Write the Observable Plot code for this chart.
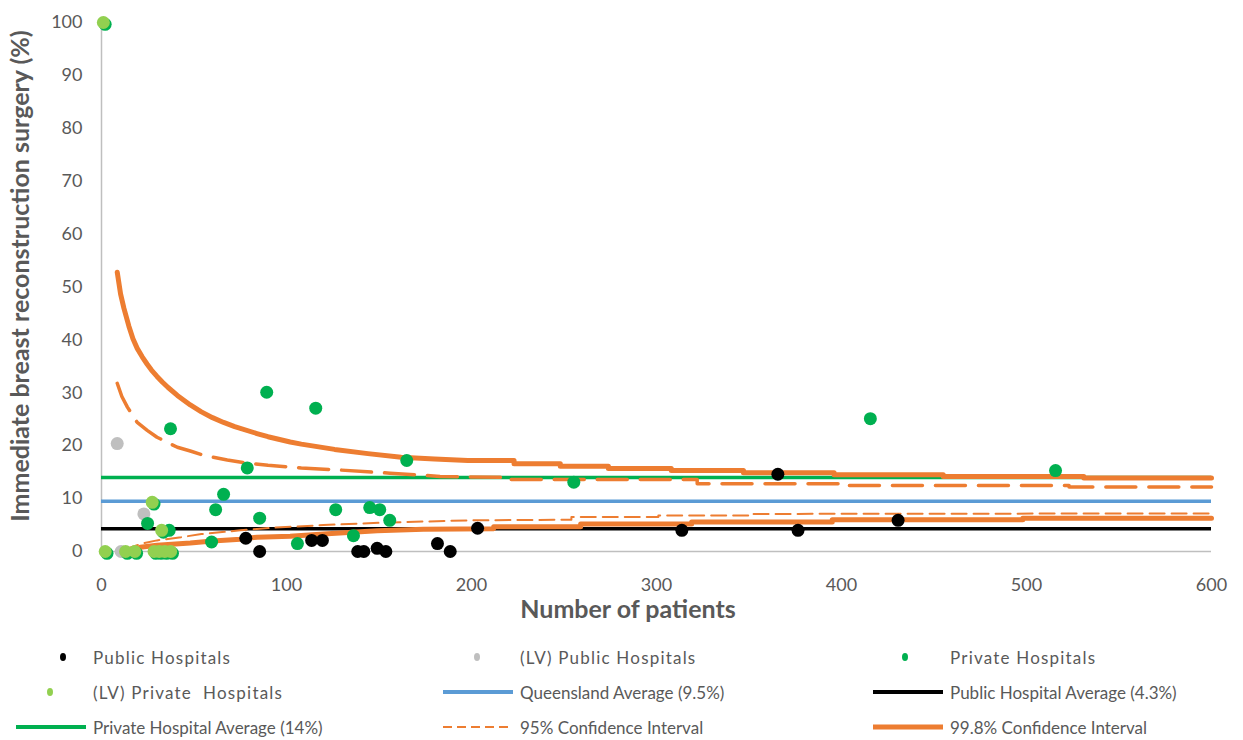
<!DOCTYPE html>
<html>
<head>
<meta charset="utf-8">
<script src="https://cdn.jsdelivr.net/npm/d3@7"></script>
<script src="https://cdn.jsdelivr.net/npm/@observablehq/plot@0.6"></script>
<style>
  body { margin: 0; background: #fff; font-family: Lato, "Open Sans", sans-serif; }
  #chart { width: 1243px; }
  #legend { position: relative; width: 1243px; height: 115px; }
  .item { position: absolute; display: flex; align-items: center; height: 24px;
          font-size: 17px; color: #595959; white-space: pre; }
  .item.wide { letter-spacing: 1.2px; }
  .item svg { flex: none; }
</style>
</head>
<body>
<div id="chart"></div>
<div id="legend"></div>
<script>
// Hospital results: number of patients and % with immediate breast reconstruction
const publicN   = [78, 85.5, 113.6, 119.4, 138.5, 141.8, 149, 153.7, 181.6, 188.5, 203.3, 313.7, 365.6, 376.5, 430.6];
const publicPct = [2.5, 0, 2.1, 2.1, 0, 0, 0.6, 0, 1.5, 0, 4.4, 4.0, 14.6, 4.0, 5.9];

const lvPublicN   = [8.5, 10.6, 22.9];
const lvPublicPct = [20.4, 0, 7.1];

const privateN   = [24.9, 36.6, 37.3, 59.5, 61.7, 66, 78.8, 85.5, 89.3, 105.9, 115.8, 126.6, 136.2, 145, 150.4, 155.8, 165, 255.3, 415.6, 515.7];
const privatePct = [5.3, 4.0, 23.2, 1.8, 7.9, 10.8, 15.8, 6.3, 30.1, 1.5, 27.1, 7.9, 3.0, 8.3, 7.9, 5.9, 17.2, 13.1, 25.1, 15.3];

const lvPrivateN   = [1, 2, 13, 18, 27.4, 28.4, 31.2, 32.5, 34.2, 37.4];
const lvPrivatePct = [100, 0, 0, 0, 9.3, 0, 0, 4.0, 0, 0];

// Reference averages (%)
const queenslandAvg = 9.5;
const publicAvg = 4.3;
const privateAvg = 14;

// Funnel limits around the Queensland average: [patients, %]
const ci95Upper = [[8.5,31.8],[11,29.3],[14,27.3],[19.3,24.4],[24.7,22.9],[30,21.6],[41,19.7],[48,19.0],[56,18.1],[68,17.3],[79,16.7],[90,16.3],[108,15.8],[129,15.4],[156,14.8],[183,14.2],[218,14.0],[218,13.6],[322,13.6],[322,12.8],[402,12.8],[402,12.5],[523,12.5],[523,12.2],[600,12.2]];
const ci95Lower = [[12,0.3],[16,0.8],[23,1.6],[30,2.1],[43,2.7],[54,3.3],[75,4.0],[93,4.5],[120,5.0],[156,5.5],[200,5.9],[254,6.0],[254,6.5],[301,6.5],[301,6.8],[351,6.8],[351,7.1],[600,7.2]];
const ci998Upper = [[8.5,52.8],[10.3,48.7],[12.1,46.0],[14.8,42.6],[17,40.2],[19.3,38.4],[22,36.8],[24.7,35.4],[27,34.3],[30,33.1],[33,32.0],[36,31.0],[41,29.5],[48,27.7],[54,26.4],[60,25.3],[66,24.4],[72,23.6],[84,22.3],[90,21.7],[102,20.7],[108,20.3],[126,19.3],[144,18.5],[162,17.8],[180,17.5],[198,17.2],[223,17.2],[223,16.6],[248,16.6],[248,16.1],[274,16.1],[274,15.7],[308,15.7],[308,15.3],[347,15.3],[347,14.9],[396,14.9],[396,14.5],[455,14.5],[455,14.2],[531,14.2],[531,13.9],[600,13.9]];
const ci998Lower = [[18.5,0],[21,0.8],[30,1.2],[48,1.6],[60,2.0],[75,2.3],[84,2.7],[102,2.9],[120,3.3],[149,3.9],[174,4.2],[212,4.3],[212,4.7],[259,4.7],[259,5.2],[319,5.2],[319,5.6],[395,5.6],[395,6.0],[498,6.0],[498,6.3],[600,6.3]];

const xTicks = [0, 100, 200, 300, 400, 500, 600];
const yTicks = [0, 10, 20, 30, 40, 50, 60, 70, 80, 90, 100];

const colors = {
  public: "#000000", lvPublic: "#BFBFBF", private: "#00B050", lvPrivate: "#92D050",
  qld: "#5B9BD5", ci: "#ED7D31", axis: "#BFBFBF", text: "#595959"
};

const pts = (ns, ps) => ns.map((n, i) => ({n, p: ps[i]}));
const R = 6.5;

const plot = Plot.plot({
  width: 1243,
  height: 625,
  marginLeft: 101,
  marginRight: 32,
  marginTop: 22,
  marginBottom: 74,
  style: {fontFamily: "Lato, 'Open Sans', sans-serif", fontSize: "18px", color: colors.text, background: "#fff"},
  x: {domain: [0, 600]},
  y: {domain: [0, 100]},
  marks: [
    Plot.axisX({ticks: xTicks, tickSize: 0, tickPadding: 27, label: null, fontSize: 18}),
    Plot.axisY({ticks: yTicks, tickSize: 0, tickPadding: 19, label: null, fontSize: 18}),
    Plot.ruleX([0], {stroke: colors.axis, strokeWidth: 1.5}),
    Plot.ruleY([0], {stroke: colors.axis, strokeWidth: 1.5}),
    // averages
    Plot.ruleY([privateAvg], {stroke: colors.private, strokeWidth: 3.5}),
    Plot.ruleY([queenslandAvg], {stroke: colors.qld, strokeWidth: 3.5}),
    Plot.ruleY([publicAvg], {stroke: colors.public, strokeWidth: 3.5}),
    // confidence funnels
    Plot.line(ci95Upper, {x: d => d[0], y: d => d[1], stroke: colors.ci, strokeWidth: 3.5, strokeDasharray: "30,13", strokeLinecap: "round"}),
    Plot.line(ci95Lower, {x: d => d[0], y: d => d[1], stroke: colors.ci, strokeWidth: 2, strokeDasharray: "15,7"}),
    Plot.line(ci998Upper, {x: d => d[0], y: d => d[1], stroke: colors.ci, strokeWidth: 5, strokeLinejoin: "round"}),
    Plot.line(ci998Lower, {x: d => d[0], y: d => d[1], stroke: colors.ci, strokeWidth: 5, strokeLinejoin: "round"}),
    // hospitals
    Plot.dot(pts(publicN, publicPct), {x: "n", y: "p", r: R, fill: colors.public}),
    Plot.dot(pts(lvPublicN, lvPublicPct), {x: "n", y: "p", r: R, fill: colors.lvPublic}),
    Plot.dot(pts(privateN, privatePct), {x: "n", y: "p", r: R, fill: colors.private}),
    Plot.dot(pts(lvPrivateN, lvPrivatePct), {x: "n", y: "p", r: R, fill: colors.private, dx: 1.8, dy: 1.8}),
    Plot.dot(pts(lvPrivateN, lvPrivatePct), {x: "n", y: "p", r: R, fill: colors.lvPrivate})
  ]
});

// axis titles
const svg = d3.select(plot);
svg.append("text")
  .attr("transform", "translate(29,276) rotate(-90)")
  .attr("text-anchor", "middle")
  .attr("font-weight", "bold").attr("font-size", 25).attr("fill", colors.text)
  .text("Immediate breast reconstruction surgery (%)");
svg.append("text")
  .attr("x", 628).attr("y", 618)
  .attr("text-anchor", "middle")
  .attr("font-weight", "bold").attr("font-size", 25).attr("fill", colors.text)
  .text("Number of patients");

document.getElementById("chart").appendChild(plot);

// legend
const legendItems = [
  {label: "Public Hospitals", kind: "dot", color: colors.public, col: 0, row: 0, cx: 63},
  {label: "(LV) Public Hospitals", kind: "dot", color: colors.lvPublic, col: 1, row: 0, cx: 50},
  {label: "Private Hospitals", kind: "dot", color: colors.private, col: 2, row: 0, cx: 48},
  {label: "(LV) Private  Hospitals", kind: "dot", color: colors.lvPrivate, col: 0, row: 1, cx: 50},
  {label: "Queensland Average (9.5%)", kind: "line", color: colors.qld, col: 1, row: 1, w: 4},
  {label: "Public Hospital Average (4.3%)", kind: "line", color: colors.public, col: 2, row: 1, w: 4},
  {label: "Private Hospital Average (14%)", kind: "line", color: colors.private, col: 0, row: 2, w: 4},
  {label: "95% Confidence Interval", kind: "dash", color: colors.ci, col: 1, row: 2, w: 2},
  {label: "99.8% Confidence Interval", kind: "line", color: colors.ci, col: 2, row: 2, w: 5}
];
const colLeft = [0, 427, 857];
const rowTop = [20, 55, 90];
const legend = d3.select("#legend");
for (const it of legendItems) {
  const div = legend.append("div").attr("class", it.kind === "dot" ? "item wide" : "item")
    .style("left", colLeft[it.col] + "px").style("top", rowTop[it.row] + "px");
  const s = div.append("svg").attr("width", 93).attr("height", 24);
  if (it.kind === "dot") {
    s.append("ellipse").attr("cx", it.cx).attr("cy", 12).attr("rx", 3).attr("ry", 4).attr("fill", it.color);
  } else {
    s.append("line").attr("x1", 16).attr("x2", 86).attr("y1", 12).attr("y2", 12)
      .attr("stroke", it.color).attr("stroke-width", it.w)
      .attr("stroke-dasharray", it.kind === "dash" ? "9,5" : null);
  }
  div.append("span").text(it.label);
}
</script>
</body>
</html>
